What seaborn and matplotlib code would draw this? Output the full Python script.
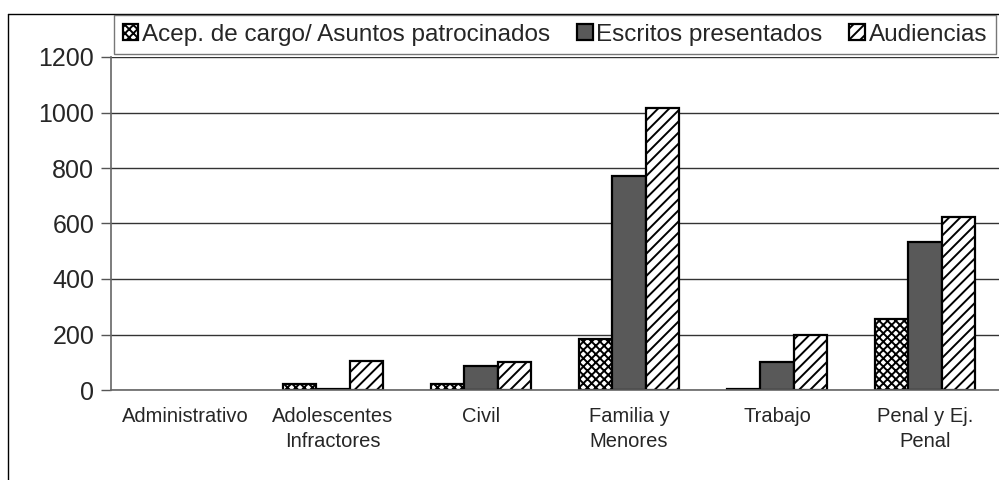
import pandas as pd
import matplotlib.pyplot as plt
import seaborn as sns
from matplotlib.lines import Line2D

sns.set_style("white")
plt.rcParams["font.family"] = ["Liberation Sans", "DejaVu Sans"]
plt.rcParams["hatch.linewidth"] = 1.4

# --- data ---
categorias = ["Administrativo", "Adolescentes\nInfractores", "Civil",
              "Familia y\nMenores", "Trabajo", "Penal y Ej.\nPenal"]
series = ["Acep. de cargo/ Asuntos patrocinados", "Escritos presentados", "Audiencias"]
acep = [0, 22, 20, 182, 3, 255]
escritos = [0, 4, 85, 770, 100, 535]
audiencias = [0, 105, 100, 1015, 200, 622]
yticks = [0, 200, 400, 600, 800, 1000, 1200]

colores = ["white", "#595959", "white"]
tramas = ["xxxx", None, "///"]

df = pd.DataFrame({
    "categoria": categorias * 3,
    "serie": [series[0]] * 6 + [series[1]] * 6 + [series[2]] * 6,
    "valor": acep + escritos + audiencias,
})

fig = plt.figure(figsize=(9.99, 4.8), dpi=100)
ax = fig.add_axes([111 / 999, 1 - 390 / 480, 888 / 999, 333 / 480])

sns.barplot(data=df, x="categoria", y="valor", hue="serie", hue_order=series,
            order=categorias, palette=colores, width=0.67, edgecolor="black",
            linewidth=1.6, legend=False, ax=ax, saturation=1)

for cont, trama in zip(ax.containers, tramas):
    for barra in cont:
        if trama:
            barra.set_hatch(trama)

ax.set_ylim(0, 1200)
ax.set_xlim(-0.5, 5.5)
ax.set_yticks(yticks)
ax.set_yticklabels([str(v) for v in yticks], fontsize=18)
ax.yaxis.grid(True, color="#333333", linewidth=1)
ax.set_axisbelow(True)
ax.set_xlabel("")
ax.set_ylabel("")

ax.tick_params(axis="x", which="major", length=0, pad=12, labelsize=14.5)
for lbl in ax.get_xticklabels():
    lbl.set_linespacing(1.4)
ax.set_xticks([i - 0.5 for i in range(7)], minor=True)
ax.tick_params(axis="x", which="minor", length=6, width=1, color="#555555", direction="out")
ax.tick_params(axis="y", length=7, width=1, color="#555555", direction="out", pad=5, left=True)

for lado in ["top", "right"]:
    ax.spines[lado].set_visible(False)
for lado in ["left", "bottom"]:
    ax.spines[lado].set_color("#666666")
    ax.spines[lado].set_linewidth(1.2)

# outer chart-area border (left and top)
fig.add_artist(Line2D([8 / 999, 8 / 999], [0, 1 - 14 / 480], color="black", linewidth=1))
fig.add_artist(Line2D([8 / 999, 1], [1 - 14 / 480, 1 - 14 / 480], color="black", linewidth=1))

leg = fig.legend(handles=list(ax.containers), labels=series, ncol=3,
                 loc="upper left", bbox_to_anchor=(114 / 999, 1 - 15 / 480),
                 fontsize=17.5, frameon=True, fancybox=False, shadow=False,
                 handlelength=0.65, handleheight=0.65, handletextpad=0.15,
                 columnspacing=1.1, borderpad=0.35, borderaxespad=0)
leg.get_frame().set_edgecolor("#555555")
leg.get_frame().set_linewidth(1)

# hide outlines of empty bars (after the legend copied their style)
for cont in ax.containers:
    for barra in cont:
        if barra.get_height() == 0:
            barra.set_linewidth(0)

plt.savefig("out.png", dpi=100)
plt.close()
